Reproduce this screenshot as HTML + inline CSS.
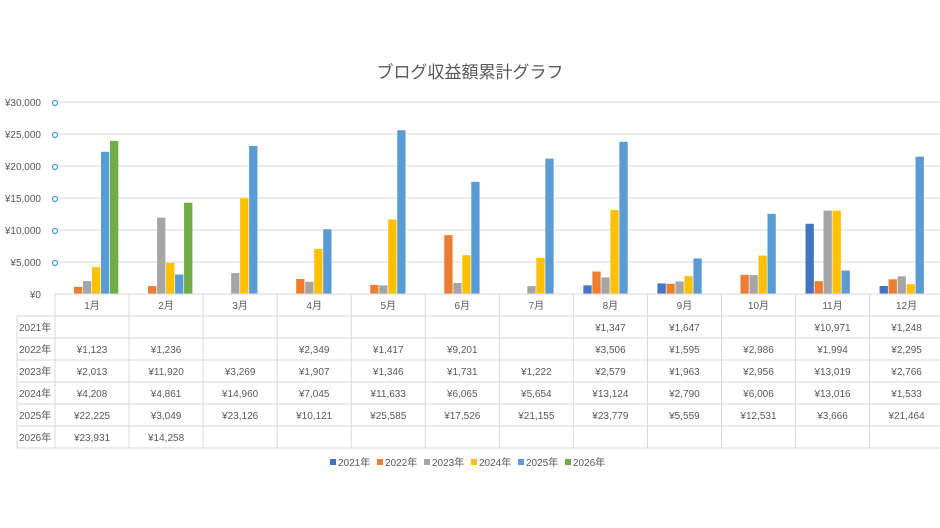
<!DOCTYPE html>
<html><head><meta charset="utf-8">
<style>
html,body{margin:0;padding:0;background:#fff;width:940px;height:528px;overflow:hidden}
svg{display:block}
text{font-family:"Liberation Sans","Noto Sans CJK JP",sans-serif;fill:#595959}
</style></head><body>
<svg id="s" width="940" height="528" xmlns="http://www.w3.org/2000/svg"></svg>
<script>
const s=document.getElementById('s');
let h='';
const L=55,CW=74.05,Y0=294,K=192/30000;
h+='<text x="470" y="78" text-anchor="middle" font-size="17" style="fill:#595959">ブログ収益額累計グラフ</text>';
for(let i=0;i<=6;i++){const y=Y0-i*32;
 if(i>0)h+=`<line x1="55" y1="${y}" x2="940" y2="${y}" stroke="#d9d9d9" stroke-width="1"/>`;
 h+=`<text x="41" y="${y+4}" text-anchor="end" font-size="10">${i==0?'¥0':'¥'+(i*5).toLocaleString()+',000'}</text>`;
 if(i>0)h+=`<circle cx="55" cy="${y+1}" r="2.5" fill="#fff" stroke="#5b9bd5" stroke-width="1.3"/>`;
}
const cols=['#4472c4','#ed7d31','#a5a5a5','#ffc000','#5b9bd5','#70ad47'];
const D=[
[null,null,null,null,null,null,null,1347,1647,null,10971,1248],
[1123,1236,null,2349,1417,9201,null,3506,1595,2986,1994,2295],
[2013,11920,3269,1907,1346,1731,1222,2579,1963,2956,13019,2766],
[4208,4861,14960,7045,11633,6065,5654,13124,2790,6006,13016,1533],
[22225,3049,23126,10121,25585,17526,21155,23779,5559,12531,3666,21464],
[23931,14258,null,null,null,null,null,null,null,null,null,null]];
for(let m=0;m<12;m++){const c=L+CW*m+CW/2;
 for(let y=0;y<6;y++){const v=D[y][m];if(v==null)continue;
  const bh=v*K;h+=`<rect x="${c-27+y*9}" y="${Y0-bh}" width="8.3" height="${bh}" fill="${cols[y]}"/>`;}
}
// table
const rows=[294,316,338,360,382,404,426,448];
h+=`<line x1="55" y1="294" x2="940" y2="294" stroke="#d9d9d9"/>`;
for(let r=1;r<rows.length;r++)h+=`<line x1="17" y1="${rows[r]}" x2="940" y2="${rows[r]}" stroke="#d9d9d9"/>`;
h+=`<line x1="17" y1="316" x2="17" y2="448" stroke="#d9d9d9"/>`;
for(let m=0;m<=12;m++){const x=L+CW*m;h+=`<line x1="${x}" y1="294" x2="${x}" y2="448" stroke="#d9d9d9"/>`;}
for(let m=0;m<12;m++){const c=L+CW*m+CW/2;
 h+=`<text x="${c}" y="309" text-anchor="middle" font-size="10">${m+1}月</text>`;
 for(let y=0;y<6;y++){const v=D[y][m];if(v==null)continue;
  h+=`<text x="${c}" y="${rows[y+1]+15}" text-anchor="middle" font-size="10">¥${v.toLocaleString('en-US')}</text>`;}
}
for(let y=0;y<6;y++)h+=`<text x="19" y="${rows[y+1]+15}" font-size="10">${2021+y}年</text>`;
// legend
let lx=330;
for(let y=0;y<6;y++){h+=`<rect x="${lx}" y="459" width="6" height="6" fill="${cols[y]}"/><text x="${lx+8}" y="466" font-size="10">${2021+y}年</text>`;lx+=47;}
s.innerHTML=h;
</script>
</body></html>
